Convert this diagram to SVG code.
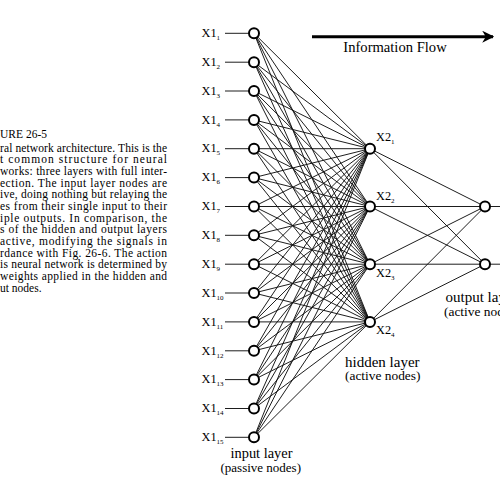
<svg xmlns="http://www.w3.org/2000/svg" width="500" height="500" viewBox="0 0 500 500" font-family="'Liberation Serif', 'Times New Roman', serif">
<defs>
<style>
text{font-family:"Liberation Serif","Times New Roman",serif;fill:#000}
.cap{font-size:11.5px}
.lbl{font-size:12.3px}
.sub{font-size:7px}
.conn line{stroke:#111;stroke-width:0.95}
.node circle{fill:#fff;stroke:#000;stroke-width:2}
</style>
<marker id="ah" viewBox="0 0 10 10" refX="9" refY="5" markerWidth="4" markerHeight="4" markerUnits="strokeWidth" orient="auto"><path d="M0,0 L10,5 L0,10 L3,5 Z" fill="#000"/></marker>
</defs>
<rect width="500" height="500" fill="#fff"/>
<g id="caption" class="cap">
<text x="0" y="138.3">URE 26-5</text>
<text x="0" y="151.7" textLength="167" lengthAdjust="spacing">ral network architecture.  This is the</text>
<text x="0" y="163.3" textLength="167" lengthAdjust="spacing">t common structure for neural</text>
<text x="0" y="175" textLength="167" lengthAdjust="spacing">works: three layers with full inter-</text>
<text x="0" y="186.7" textLength="167" lengthAdjust="spacing">ection.  The input layer nodes  are</text>
<text x="0" y="198.3" textLength="167" lengthAdjust="spacing">ive, doing nothing but relaying the</text>
<text x="0" y="210" textLength="167" lengthAdjust="spacing">es from their single input to their</text>
<text x="0" y="221.7" textLength="167" lengthAdjust="spacing">iple outputs.  In comparison, the</text>
<text x="0" y="233.3" textLength="167" lengthAdjust="spacing">s of the hidden and output layers</text>
<text x="0" y="245" textLength="167" lengthAdjust="spacing">active, modifying the signals in</text>
<text x="0" y="256.7" textLength="167" lengthAdjust="spacing">rdance with Fig. 26-6.  The  action</text>
<text x="0" y="268.3" textLength="167" lengthAdjust="spacing">is neural network is determined by</text>
<text x="0" y="280" textLength="167" lengthAdjust="spacing">weights applied in the hidden and</text>
<text x="0" y="291.7">ut nodes.</text>
</g>
<g id="flow">
<line x1="312" y1="36.7" x2="493" y2="36.7" stroke="#000" stroke-width="3" marker-end="url(#ah)"/>
<text x="395" y="52" font-size="14.6" text-anchor="middle">Information Flow</text>
</g>
<g id="connectors" class="conn">
<line x1="225" y1="33.3" x2="254" y2="33.3"/><line x1="225" y1="62.2" x2="254" y2="62.2"/><line x1="225" y1="91" x2="254" y2="91"/><line x1="225" y1="119.9" x2="254" y2="119.9"/><line x1="225" y1="148.7" x2="254" y2="148.7"/><line x1="225" y1="177.6" x2="254" y2="177.6"/><line x1="225" y1="206.5" x2="254" y2="206.5"/><line x1="225" y1="235.3" x2="254" y2="235.3"/><line x1="225" y1="264.2" x2="254" y2="264.2"/><line x1="225" y1="293" x2="254" y2="293"/><line x1="225" y1="321.9" x2="254" y2="321.9"/><line x1="225" y1="350.8" x2="254" y2="350.8"/><line x1="225" y1="379.6" x2="254" y2="379.6"/><line x1="225" y1="408.5" x2="254" y2="408.5"/><line x1="225" y1="437.3" x2="254" y2="437.3"/>
<line x1="254" y1="33.3" x2="370" y2="148.7"/><line x1="254" y1="33.3" x2="370" y2="206.5"/><line x1="254" y1="33.3" x2="370" y2="264.2"/><line x1="254" y1="33.3" x2="370" y2="321.9"/>
<line x1="254" y1="62.2" x2="370" y2="148.7"/><line x1="254" y1="62.2" x2="370" y2="206.5"/><line x1="254" y1="62.2" x2="370" y2="264.2"/><line x1="254" y1="62.2" x2="370" y2="321.9"/>
<line x1="254" y1="91" x2="370" y2="148.7"/><line x1="254" y1="91" x2="370" y2="206.5"/><line x1="254" y1="91" x2="370" y2="264.2"/><line x1="254" y1="91" x2="370" y2="321.9"/>
<line x1="254" y1="119.9" x2="370" y2="148.7"/><line x1="254" y1="119.9" x2="370" y2="206.5"/><line x1="254" y1="119.9" x2="370" y2="264.2"/><line x1="254" y1="119.9" x2="370" y2="321.9"/>
<line x1="254" y1="148.7" x2="370" y2="148.7"/><line x1="254" y1="148.7" x2="370" y2="206.5"/><line x1="254" y1="148.7" x2="370" y2="264.2"/><line x1="254" y1="148.7" x2="370" y2="321.9"/>
<line x1="254" y1="177.6" x2="370" y2="148.7"/><line x1="254" y1="177.6" x2="370" y2="206.5"/><line x1="254" y1="177.6" x2="370" y2="264.2"/><line x1="254" y1="177.6" x2="370" y2="321.9"/>
<line x1="254" y1="206.5" x2="370" y2="148.7"/><line x1="254" y1="206.5" x2="370" y2="206.5"/><line x1="254" y1="206.5" x2="370" y2="264.2"/><line x1="254" y1="206.5" x2="370" y2="321.9"/>
<line x1="254" y1="235.3" x2="370" y2="148.7"/><line x1="254" y1="235.3" x2="370" y2="206.5"/><line x1="254" y1="235.3" x2="370" y2="264.2"/><line x1="254" y1="235.3" x2="370" y2="321.9"/>
<line x1="254" y1="264.2" x2="370" y2="148.7"/><line x1="254" y1="264.2" x2="370" y2="206.5"/><line x1="254" y1="264.2" x2="370" y2="264.2"/><line x1="254" y1="264.2" x2="370" y2="321.9"/>
<line x1="254" y1="293" x2="370" y2="148.7"/><line x1="254" y1="293" x2="370" y2="206.5"/><line x1="254" y1="293" x2="370" y2="264.2"/><line x1="254" y1="293" x2="370" y2="321.9"/>
<line x1="254" y1="321.9" x2="370" y2="148.7"/><line x1="254" y1="321.9" x2="370" y2="206.5"/><line x1="254" y1="321.9" x2="370" y2="264.2"/><line x1="254" y1="321.9" x2="370" y2="321.9"/>
<line x1="254" y1="350.8" x2="370" y2="148.7"/><line x1="254" y1="350.8" x2="370" y2="206.5"/><line x1="254" y1="350.8" x2="370" y2="264.2"/><line x1="254" y1="350.8" x2="370" y2="321.9"/>
<line x1="254" y1="379.6" x2="370" y2="148.7"/><line x1="254" y1="379.6" x2="370" y2="206.5"/><line x1="254" y1="379.6" x2="370" y2="264.2"/><line x1="254" y1="379.6" x2="370" y2="321.9"/>
<line x1="254" y1="408.5" x2="370" y2="148.7"/><line x1="254" y1="408.5" x2="370" y2="206.5"/><line x1="254" y1="408.5" x2="370" y2="264.2"/><line x1="254" y1="408.5" x2="370" y2="321.9"/>
<line x1="254" y1="437.3" x2="370" y2="148.7"/><line x1="254" y1="437.3" x2="370" y2="206.5"/><line x1="254" y1="437.3" x2="370" y2="264.2"/><line x1="254" y1="437.3" x2="370" y2="321.9"/>
<line x1="370" y1="148.7" x2="485" y2="206.5"/><line x1="370" y1="148.7" x2="485" y2="264.2"/>
<line x1="370" y1="206.5" x2="485" y2="206.5"/><line x1="370" y1="206.5" x2="485" y2="264.2"/>
<line x1="370" y1="264.2" x2="485" y2="206.5"/><line x1="370" y1="264.2" x2="485" y2="264.2"/>
<line x1="370" y1="321.9" x2="485" y2="206.5"/><line x1="370" y1="321.9" x2="485" y2="264.2"/>
<line x1="485" y1="206.5" x2="500" y2="206.5"/><line x1="485" y1="264.2" x2="500" y2="264.2"/>
</g>
<g id="input-layer" class="node">
<g id="x1-1"><circle cx="254" cy="33.3" r="5"/><text class="lbl" x="201.5" y="37">X1<tspan class="sub" dy="3">1</tspan></text></g>
<g id="x1-2"><circle cx="254" cy="62.2" r="5"/><text class="lbl" x="201.5" y="65.9">X1<tspan class="sub" dy="3">2</tspan></text></g>
<g id="x1-3"><circle cx="254" cy="91" r="5"/><text class="lbl" x="201.5" y="94.7">X1<tspan class="sub" dy="3">3</tspan></text></g>
<g id="x1-4"><circle cx="254" cy="119.9" r="5"/><text class="lbl" x="201.5" y="123.6">X1<tspan class="sub" dy="3">4</tspan></text></g>
<g id="x1-5"><circle cx="254" cy="148.7" r="5"/><text class="lbl" x="201.5" y="152.4">X1<tspan class="sub" dy="3">5</tspan></text></g>
<g id="x1-6"><circle cx="254" cy="177.6" r="5"/><text class="lbl" x="201.5" y="181.3">X1<tspan class="sub" dy="3">6</tspan></text></g>
<g id="x1-7"><circle cx="254" cy="206.5" r="5"/><text class="lbl" x="201.5" y="210.2">X1<tspan class="sub" dy="3">7</tspan></text></g>
<g id="x1-8"><circle cx="254" cy="235.3" r="5"/><text class="lbl" x="201.5" y="239">X1<tspan class="sub" dy="3">8</tspan></text></g>
<g id="x1-9"><circle cx="254" cy="264.2" r="5"/><text class="lbl" x="201.5" y="267.9">X1<tspan class="sub" dy="3">9</tspan></text></g>
<g id="x1-10"><circle cx="254" cy="293" r="5"/><text class="lbl" x="201.5" y="296.7">X1<tspan class="sub" dy="3">10</tspan></text></g>
<g id="x1-11"><circle cx="254" cy="321.9" r="5"/><text class="lbl" x="201.5" y="325.6">X1<tspan class="sub" dy="3">11</tspan></text></g>
<g id="x1-12"><circle cx="254" cy="350.8" r="5"/><text class="lbl" x="201.5" y="354.5">X1<tspan class="sub" dy="3">12</tspan></text></g>
<g id="x1-13"><circle cx="254" cy="379.6" r="5"/><text class="lbl" x="201.5" y="383.3">X1<tspan class="sub" dy="3">13</tspan></text></g>
<g id="x1-14"><circle cx="254" cy="408.5" r="5"/><text class="lbl" x="201.5" y="412.2">X1<tspan class="sub" dy="3">14</tspan></text></g>
<g id="x1-15"><circle cx="254" cy="437.3" r="5"/><text class="lbl" x="201.5" y="441">X1<tspan class="sub" dy="3">15</tspan></text></g>
<text x="230.5" y="458" font-size="14.4">input layer</text>
<text x="220.5" y="471.5" font-size="13">(passive nodes)</text>
</g>
<g id="hidden-layer" class="node">
<g id="x2-1"><circle cx="370" cy="148.7" r="5"/><text class="lbl" x="376" y="141">X2<tspan class="sub" dy="3">1</tspan></text></g>
<g id="x2-2"><circle cx="370" cy="206.5" r="5"/><text class="lbl" x="376" y="200">X2<tspan class="sub" dy="3">2</tspan></text></g>
<g id="x2-3"><circle cx="370" cy="264.2" r="5"/><text class="lbl" x="376" y="277">X2<tspan class="sub" dy="3">3</tspan></text></g>
<g id="x2-4"><circle cx="370" cy="321.9" r="5"/><text class="lbl" x="376" y="334">X2<tspan class="sub" dy="3">4</tspan></text></g>
<text x="345" y="366.5" font-size="15">hidden layer</text>
<text x="345" y="380" font-size="13.4">(active nodes)</text>
</g>
<g id="output-layer" class="node">
<g id="y-1"><circle cx="485" cy="206.5" r="5"/></g>
<g id="y-2"><circle cx="485" cy="264.2" r="5"/></g>
<text x="445.5" y="302" font-size="15">output layer</text>
<text x="444" y="316" font-size="13.4">(active nodes)</text>
</g>
</svg>
